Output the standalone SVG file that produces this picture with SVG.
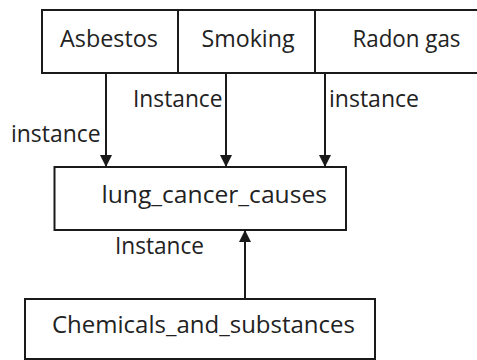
<svg xmlns="http://www.w3.org/2000/svg" width="477" height="360" viewBox="0 0 477 360">
<defs>
<style>
.box{fill:#fff;stroke:#1a1a1a;stroke-width:2}
.lbl{font-family:"Open Sans","Liberation Sans",sans-serif;font-size:23px;fill:#222}
.edge{stroke:#1a1a1a;stroke-width:2;fill:none;marker-end:url(#arr)}
</style>
<marker id="arr" markerUnits="userSpaceOnUse" markerWidth="14" markerHeight="12" viewBox="0 0 14 12" refX="12" refY="6" orient="auto">
<path d="M0,0 L12,6 L0,12 Z" fill="#1a1a1a"/>
</marker>
</defs>
<rect width="477" height="360" fill="#fff"/>
<g id="asbestos"><rect class="box" x="42" y="10" width="136" height="63"/><text class="lbl" x="60" y="46.5" textLength="98" lengthAdjust="spacingAndGlyphs">Asbestos</text></g>
<g id="smoking"><rect class="box" x="178" y="10" width="137" height="63"/><text class="lbl" x="201.5" y="46.5" textLength="93" lengthAdjust="spacingAndGlyphs">Smoking</text></g>
<g id="radon"><rect class="box" x="315" y="10" width="175" height="63"/><text class="lbl" x="352.5" y="46.5" textLength="108" lengthAdjust="spacingAndGlyphs">Radon gas</text></g>
<g id="lung"><rect class="box" x="54.5" y="167" width="291.5" height="63"/><text class="lbl" x="101.5" y="203" textLength="225.5" lengthAdjust="spacingAndGlyphs">lung_cancer_causes</text></g>
<g id="chemicals"><rect class="box" x="25" y="299" width="350" height="60"/><text class="lbl" x="52" y="333" textLength="303" lengthAdjust="spacingAndGlyphs">Chemicals_and_substances</text></g>
<g id="connectors">
<line class="edge" x1="106" y1="73" x2="106" y2="167"/>
<line class="edge" x1="226" y1="73" x2="226" y2="167"/>
<line class="edge" x1="325" y1="73" x2="325" y2="167"/>
<line class="edge" x1="245" y1="299" x2="245" y2="230"/>
<text class="lbl" x="11" y="141.5" textLength="89.5" lengthAdjust="spacingAndGlyphs">instance</text>
<text class="lbl" x="133" y="106.5" textLength="89.5" lengthAdjust="spacingAndGlyphs">Instance</text>
<text class="lbl" x="329" y="106.5" textLength="90" lengthAdjust="spacingAndGlyphs">instance</text>
<text class="lbl" x="115" y="254" textLength="89" lengthAdjust="spacingAndGlyphs">Instance</text>
</g>
</svg>
